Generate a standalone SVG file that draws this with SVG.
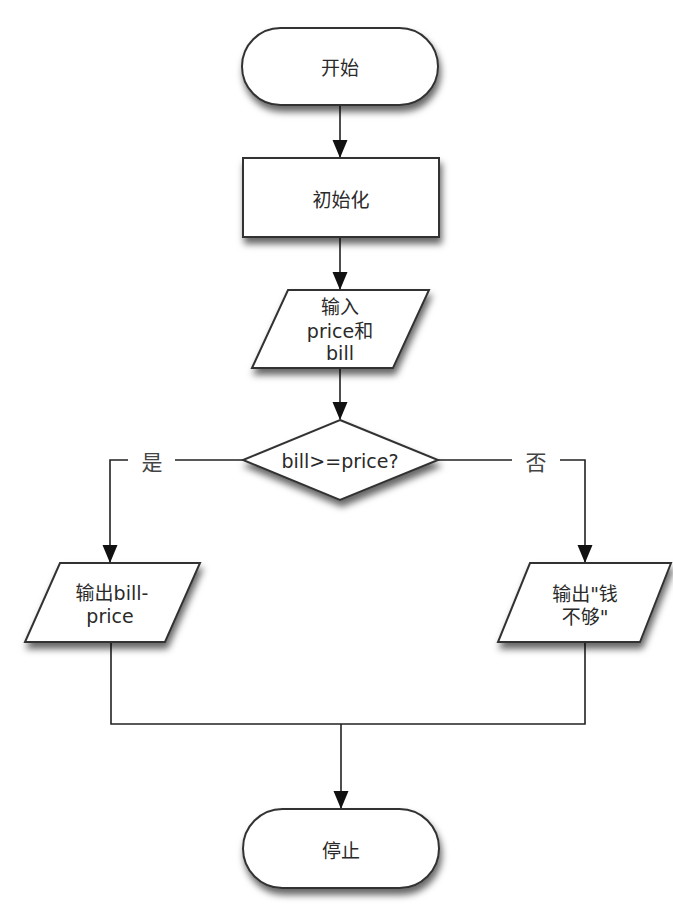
<svg xmlns="http://www.w3.org/2000/svg" width="673" height="909" viewBox="0 0 673 909">
<defs>
<filter id="sh" x="-20%" y="-20%" width="140%" height="160%">
<feDropShadow dx="2" dy="6" stdDeviation="3.5" flood-color="#000" flood-opacity="0.6"/>
</filter>
<marker id="arr" markerUnits="userSpaceOnUse" markerWidth="18" markerHeight="16" refX="17" refY="7.5" orient="auto">
<path d="M0,0 L18,7.5 L0,15 Z" fill="#111"/>
</marker>
<style>
.shape{fill:#fff;stroke:#333;stroke-width:2;filter:url(#sh)}
.conn{fill:none;stroke:#222;stroke-width:1.6}
.t{font-family:"DejaVu Sans","Noto Sans CJK SC",sans-serif;font-size:19px;fill:#2a2a2a;text-anchor:middle;dominant-baseline:central}
.lbl{font-family:"Noto Sans CJK SC","DejaVu Sans",sans-serif;font-size:21px;fill:#444;text-anchor:middle;dominant-baseline:central}
</style>
</defs>
<rect width="673" height="909" fill="#fff"/>
<g id="connectors">
<path class="conn" d="M340,105 V157" marker-end="url(#arr)"/>
<path class="conn" d="M340,237 V289" marker-end="url(#arr)"/>
<path class="conn" d="M340,368 V419" marker-end="url(#arr)"/>
<path class="conn" d="M243,460 H175 M128,460 H110 V562" marker-end="url(#arr)"/>
<path class="conn" d="M438,460 H512 M560,460 H585 V562" marker-end="url(#arr)"/>
<path class="conn" d="M111,642 V724 H585 V642"/>
<path class="conn" d="M341,724 V808" marker-end="url(#arr)"/>
<text class="lbl" x="152" y="461">是</text>
<text class="lbl" x="536" y="461">否</text>
</g>
<g id="start">
<rect class="shape" x="242" y="28" width="196" height="77" rx="38.5"/>
<text class="t" x="340" y="68">开始</text>
</g>
<g id="init">
<rect class="shape" x="243" y="158" width="196" height="79"/>
<text class="t" x="341" y="200">初始化</text>
</g>
<g id="input">
<polygon class="shape" points="288,290 429,290 393,368 252,368"/>
<text class="t" x="340" y="307">输入</text>
<text class="t" x="340" y="331">price和</text>
<text class="t" x="340" y="353">bill</text>
</g>
<g id="decision">
<polygon class="shape" points="340,420 438,460 340,500 243,460"/>
<text class="t" x="340" y="461">bill&gt;=price?</text>
</g>
<g id="outYes">
<polygon class="shape" points="60,563 200,563 165,642 25,642"/>
<text class="t" x="112" y="593">输出bill-</text>
<text class="t" x="110" y="616">price</text>
</g>
<g id="outNo">
<polygon class="shape" points="530,563 671,563 640,642 498,642"/>
<text class="t" x="585" y="594">输出"钱</text>
<text class="t" x="585" y="617">不够"</text>
</g>
<g id="stop">
<rect class="shape" x="243" y="809" width="196" height="79" rx="39.5"/>
<text class="t" x="341" y="851">停止</text>
</g>
</svg>
